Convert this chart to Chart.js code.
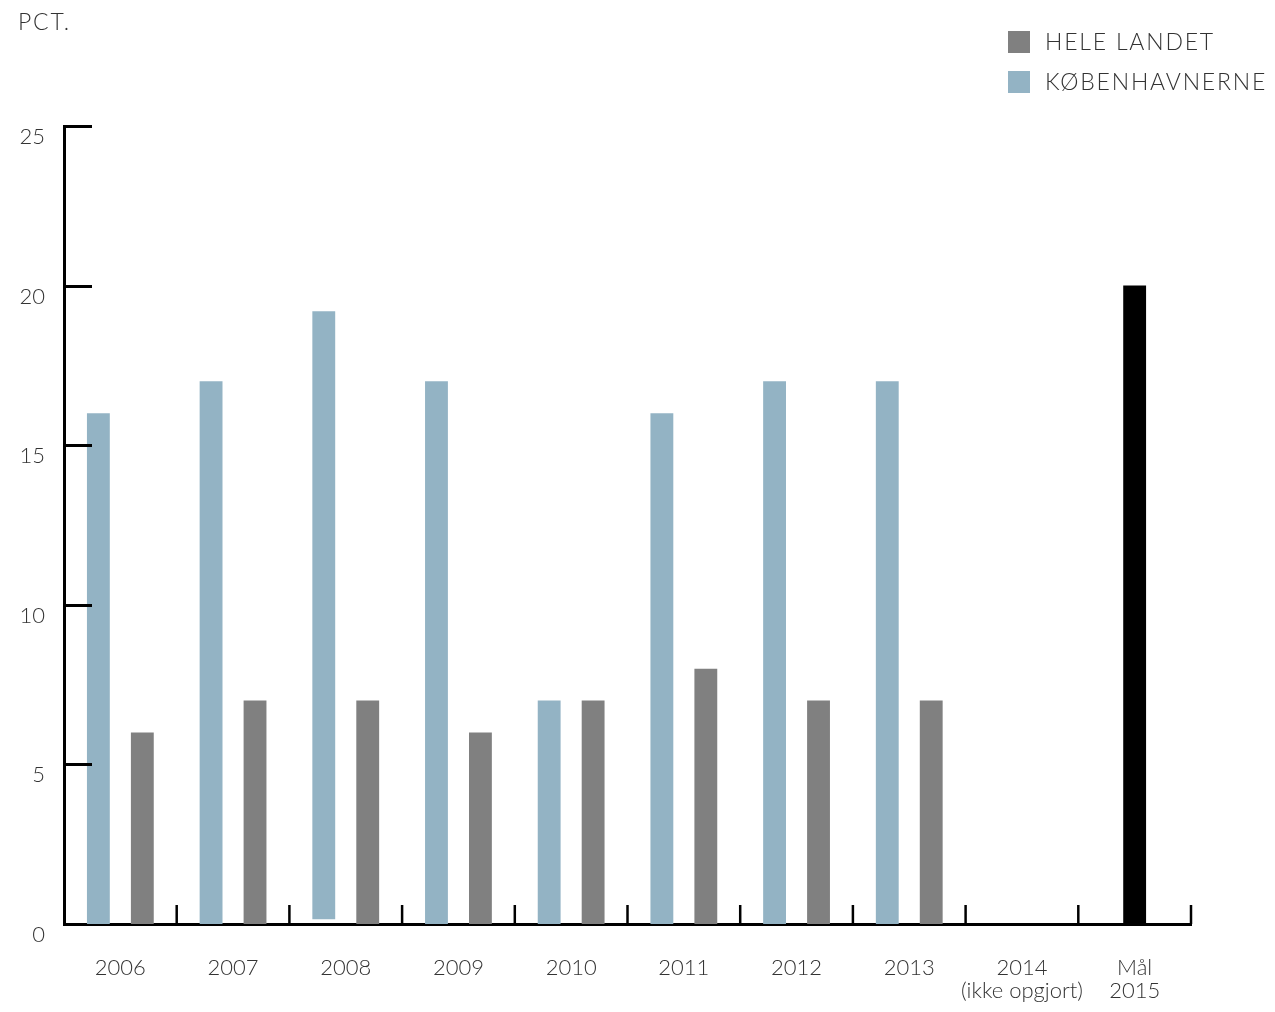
<!DOCTYPE html>
<html lang="da">
<head>
    <meta charset="UTF-8">
    <title>Andel - pct.</title>
    <script src="https://cdn.jsdelivr.net/npm/chart.js@4.4.1/dist/chart.umd.min.js"></script>
    <style>
        body {
            margin: 0;
            background: #fff;
        }
        #wrap {
            width: 1275px;
            height: 1012px;
        }
    </style>
</head>
<body>
    <div id="wrap">
        <canvas id="chart" width="1275" height="1012"></canvas>
    </div>

    <script>
// data
const categories = ['2006', '2007', '2008', '2009', '2010', '2011', '2012', '2013',
    ['2014', '(ikke opgjort)'], ['Mål', '2015']];
const koebenhavnerne = [16, 17, [0.15, 19.2], 17, 7, 16, 17, 17, null, null];
const heleLandet = [6, 7, 7, 6, 7, 8, 7, 7, null, null];
const maal = [null, null, null, null, null, null, null, null, null, 20];
const yTicks = [0, 5, 10, 15, 20, 25];

const textColor = '#333';
const fontFamily = 'Lato, "Open Sans", sans-serif';

// inside tick marks, legend and the unit label
const decorPlugin = {
    id: 'decor',
    afterDraw(chart) {
        const ctx = chart.ctx;
        const x = chart.scales.x;
        const y = chart.scales.y;
        const area = chart.chartArea;
        ctx.save();
        ctx.strokeStyle = '#000';

        // y tick marks pointing right
        ctx.lineWidth = 3;
        yTicks.forEach(v => {
            if (v === 0) return;
            const py = Math.round(y.getPixelForValue(v)) + 0.5;
            ctx.beginPath();
            ctx.moveTo(area.left, py);
            ctx.lineTo(area.left + 28, py);
            ctx.stroke();
        });

        // x tick marks at category boundaries pointing up
        ctx.lineWidth = 2.5;
        categories.forEach((c, i) => {
            const px = x.getPixelForValue(i + 0.5);
            ctx.beginPath();
            ctx.moveTo(px, area.bottom);
            ctx.lineTo(px, area.bottom - 19);
            ctx.stroke();
        });

        // legend (caps are wider in the original typeface, so space them out)
        ctx.font = '300 23px ' + fontFamily;
        ctx.letterSpacing = '1.8px';
        ctx.textBaseline = 'middle';
        ctx.textAlign = 'left';
        const items = [chart.data.datasets[1], chart.data.datasets[0]];
        items.forEach((ds, i) => {
            const top = 31 + i * 40;
            ctx.fillStyle = ds.backgroundColor;
            ctx.fillRect(1008, top, 22, 22);
            ctx.fillStyle = textColor;
            ctx.fillText(ds.label, 1045, top + 12);
        });

        // unit
        ctx.fillText('PCT.', 18, 23);
        ctx.restore();
    }
};

new Chart(document.getElementById('chart'), {
    type: 'bar',
    data: {
        labels: categories,
        datasets: [
            {
                label: 'KØBENHAVNERNE',
                data: koebenhavnerne,
                backgroundColor: '#93b3c4',
                categoryPercentage: 0.78,
                barPercentage: 0.52
            },
            {
                label: 'HELE LANDET',
                data: heleLandet,
                backgroundColor: '#808080',
                categoryPercentage: 0.78,
                barPercentage: 0.52
            },
            {
                label: 'Mål',
                data: maal,
                backgroundColor: '#000',
                grouped: false,
                categoryPercentage: 0.78,
                barPercentage: 0.26
            }
        ]
    },
    options: {
        responsive: false,
        animation: false,
        layout: {
            padding: { top: 126, right: 84, bottom: 0, left: 0 }
        },
        plugins: {
            legend: { display: false },
            tooltip: { enabled: false }
        },
        scales: {
            x: {
                grid: { display: false, drawTicks: false },
                border: { display: true, color: '#000', width: 3 },
                ticks: {
                    color: textColor,
                    font: { family: fontFamily, size: 22, weight: 300, lineHeight: 1.05 },
                    padding: 32,
                    maxRotation: 0,
                    autoSkip: false
                },
                afterFit(scale) { scale.height = 88; }
            },
            y: {
                min: 0,
                max: 25,
                grid: { display: false, drawTicks: false },
                border: { display: true, color: '#000', width: 3 },
                ticks: {
                    stepSize: 5,
                    color: textColor,
                    font: { family: fontFamily, size: 22, weight: 300 },
                    padding: 19,
                    labelOffset: 11
                },
                afterFit(scale) { scale.width = 64; }
            }
        }
    },
    plugins: [decorPlugin]
});
    </script>
</body>
</html>
